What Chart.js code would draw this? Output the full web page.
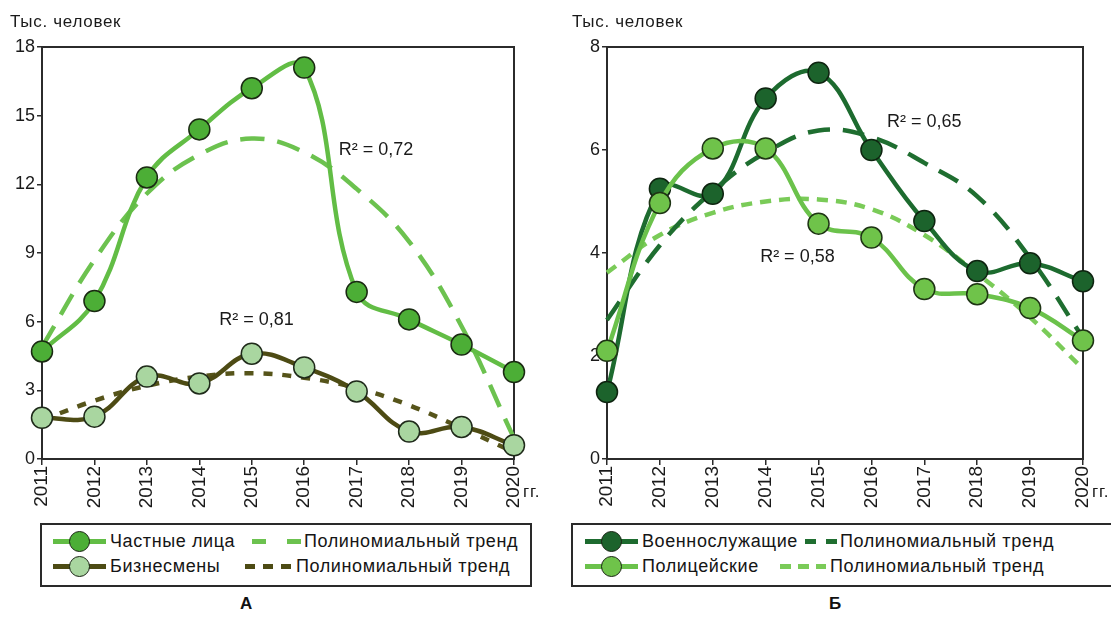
<!DOCTYPE html>
<html><head><meta charset="utf-8">
<script src="https://cdn.jsdelivr.net/npm/chart.js@4.4.1/dist/chart.umd.min.js"></script>
<style>
body{margin:0;background:#fff;width:1111px;height:617px;overflow:hidden;position:relative;font-family:"Liberation Sans",Arial,sans-serif;color:#111}
#c1{position:absolute;left:0;top:0}
#c2{position:absolute;left:560px;top:0}
.legbox{position:absolute;top:523px;height:64px;border:2px solid #2a2a2a;box-sizing:border-box;background:#fff}
.ln{position:absolute;height:5px;width:53px}
.dot{position:absolute;width:21px;height:21px;border-radius:50%;border:1.5px solid #1a2414;box-sizing:border-box}
.dash{position:absolute;height:5px}
.txt{position:absolute;font-size:18px;line-height:20px;white-space:nowrap;color:#151515;letter-spacing:0.6px}
.cap{position:absolute;top:594px;font-weight:bold;font-size:17px;line-height:20px}
</style>
</head><body>
<canvas id="c1" width="560" height="520"></canvas>
<canvas id="c2" width="551" height="520"></canvas>

<div class="legbox" style="left:40px;width:492px">
  <div class="ln" style="left:11px;top:14px;background:#62bd45"></div>
  <div class="dot" style="left:27px;top:6px;background:#4cae36"></div>
  <div class="txt" style="left:68px;top:6px">Частные лица</div>
  <div class="dash" style="left:210px;top:14px;width:49px;background:repeating-linear-gradient(90deg,#6cc24f 0 14px,transparent 14px 35px)"></div>
  <div class="txt" style="left:262px;top:6px">Полиномиальный тренд</div>
  <div class="ln" style="left:11px;top:39px;background:#4d4b14"></div>
  <div class="dot" style="left:27px;top:31px;background:#a9d6a0"></div>
  <div class="txt" style="left:68px;top:31px">Бизнесмены</div>
  <div class="dash" style="left:203px;top:39px;width:46px;background:repeating-linear-gradient(90deg,#4d4b14 0 10px,transparent 10px 18px)"></div>
  <div class="txt" style="left:254px;top:31px">Полиномиальный тренд</div>
</div>

<div class="legbox" style="left:571px;width:560px">
  <div class="ln" style="left:12px;top:14px;background:#1d6b2f"></div>
  <div class="dot" style="left:28px;top:6px;background:#1c632c"></div>
  <div class="txt" style="left:69px;top:6px">Военнослужащие</div>
  <div class="dash" style="left:232px;top:14px;width:32px;background:repeating-linear-gradient(90deg,#1f6e30 0 11px,transparent 11px 21px)"></div>
  <div class="txt" style="left:267px;top:6px">Полиномиальный тренд</div>
  <div class="ln" style="left:12px;top:39px;background:#6bc24b"></div>
  <div class="dot" style="left:28px;top:31px;background:#6fc34a"></div>
  <div class="txt" style="left:69px;top:31px">Полицейские</div>
  <div class="dash" style="left:207px;top:39px;width:46px;background:repeating-linear-gradient(90deg,#7acb58 0 11px,transparent 11px 18px)"></div>
  <div class="txt" style="left:257px;top:31px">Полиномиальный тренд</div>
</div>

<div class="cap" style="left:240px">А</div>
<div class="cap" style="left:829px">Б</div>

<script>
const years = ['2011','2012','2013','2014','2015','2016','2017','2018','2019','2020'];
const privatePersons = [4.7, 6.9, 12.3, 14.4, 16.2, 17.1, 7.3, 6.1, 5.0, 3.8];
const privateTrend   = [4.9, 8.7, 11.6, 13.3, 14.0, 13.4, 11.8, 9.5, 5.8, 0.9];
const businessmen    = [1.8, 1.85, 3.6, 3.3, 4.6, 4.0, 2.95, 1.2, 1.4, 0.6];
const businessTrend  = [1.7, 2.55, 3.2, 3.6, 3.75, 3.55, 3.1, 2.35, 1.35, 0.3];
const military       = [1.3, 5.25, 5.15, 7.0, 7.5, 6.0, 4.62, 3.65, 3.8, 3.45];
const militaryTrend  = [2.7, 4.15, 5.2, 5.95, 6.38, 6.25, 5.75, 5.1, 3.9, 2.35];
const police         = [2.1, 4.97, 6.03, 6.03, 4.57, 4.3, 3.3, 3.2, 2.93, 2.3];
const policeTrend    = [3.62, 4.35, 4.78, 5.0, 5.04, 4.85, 4.35, 3.6, 2.75, 1.75];
const leftTicks  = [0, 3, 6, 9, 12, 15, 18];
const rightTicks = [0, 2, 4, 6, 8];
const yTitle = 'Тыс. человек';
const xUnit = 'гг.';
const leftNotes  = [{text:'R² = 0,72', x:6.37, y:13.5}, {text:'R² = 0,81', x:4.09, y:6.07}];
const rightNotes = [{text:'R² = 0,65', x:6.0, y:6.54}, {text:'R² = 0,58', x:3.6, y:3.92}];

const FONT = '"Liberation Sans", Arial, sans-serif';

const decor = {
  id: 'decor',
  beforeDatasetsDraw(chart) {
    const a = chart.chartArea, ctx = chart.ctx;
    ctx.save();
    ctx.strokeStyle = '#2b2b2b';
    ctx.lineWidth = 2;
    ctx.strokeRect(a.left, a.top, a.right - a.left, a.bottom - a.top);
    ctx.restore();
  },
  afterDraw(chart, args, opts) {
    const a = chart.chartArea, ctx = chart.ctx;
    const xs = chart.scales.x, ys = chart.scales.y;
    ctx.save();
    ctx.fillStyle = '#1a1a1a';
    ctx.font = '17px ' + FONT;
    ctx.textBaseline = 'middle';
    ctx.textAlign = 'left';
    ctx.letterSpacing = '0.7px';
    ctx.fillText(yTitle, a.left - opts.titleDx, 22);
    ctx.fillText(xUnit, a.right + 9, 492);
    ctx.letterSpacing = '0px';
    ctx.font = '18px ' + FONT;
    ctx.textAlign = 'center';
    for (const n of opts.notes) {
      ctx.fillText(n.text, xs.getPixelForValue(n.x), ys.getPixelForValue(n.y));
    }
    ctx.restore();
  }
};

function line(label, data, color, fill, border) {
  return {label, data, borderColor: color, borderWidth: 4.5, tension: 0.4, clip: false,
    pointRadius: 10.5, pointBackgroundColor: fill, pointBorderColor: border, pointBorderWidth: 1.5,
    pointHoverRadius: 10.5};
}
function trend(label, data, color, dash) {
  return {label, data, borderColor: color, borderWidth: 4.5, tension: 0.4, clip: false,
    pointRadius: 0, borderDash: dash, borderCapStyle: 'butt'};
}

function makeChart(id, datasets, ticks, yWidth, padRight, notes, titleDx) {
  return new Chart(document.getElementById(id), {
    type: 'line',
    data: {labels: years, datasets},
    plugins: [decor],
    options: {
      responsive: false, animation: false, events: [],
      layout: {padding: {left: 0, right: padRight, top: 47, bottom: 0}},
      plugins: {legend: {display: false}, tooltip: {enabled: false}, decor: {notes, titleDx}},
      scales: {
        x: {
          type: 'category', offset: false,
          grid: {display: true, drawOnChartArea: false, drawTicks: true, tickLength: 6, color: '#2b2b2b', lineWidth: 1.5},
          border: {display: true, color: '#2b2b2b', width: 2},
          ticks: {minRotation: 90, maxRotation: 90, autoSkip: false, padding: 1, color: '#1a1a1a', font: {family: FONT, size: 19}},
          afterFit: s => { s.height = 61; }
        },
        y: {
          min: ticks[0], max: ticks[ticks.length - 1],
          afterBuildTicks: s => { s.ticks = ticks.map(v => ({value: v})); },
          grid: {display: true, drawOnChartArea: false, drawTicks: true, tickLength: 5, color: '#2b2b2b', lineWidth: 1.5},
          border: {display: true, color: '#2b2b2b', width: 2},
          ticks: {padding: 2, color: '#1a1a1a', font: {family: FONT, size: 18}},
          afterFit: s => { s.width = yWidth; }
        }
      }
    }
  });
}

makeChart('c1', [
  line('Частные лица', privatePersons, '#62bd45', '#4cae36', '#1a2a12'),
  line('Бизнесмены', businessmen, '#4d4b14', '#a9d6a0', '#1f2a1a'),
  trend('Полиномиальный тренд', privateTrend, '#6cc24f', [24, 13]),
  trend('Полиномиальный тренд', businessTrend, '#56541a', [9, 10])
], leftTicks, 42, 46, leftNotes, 32);

makeChart('c2', [
  line('Полицейские', police, '#6bc24b', '#6fc34a', '#1e3414'),
  line('Военнослужащие', military, '#1d6b2f', '#1c632c', '#0e2410'),
  trend('Полиномиальный тренд', militaryTrend, '#1f6e30', [22, 13]),
  trend('Полиномиальный тренд', policeTrend, '#7acb58', [11, 8])
], rightTicks, 47, 28, rightNotes, 35);
</script>
</body></html>
